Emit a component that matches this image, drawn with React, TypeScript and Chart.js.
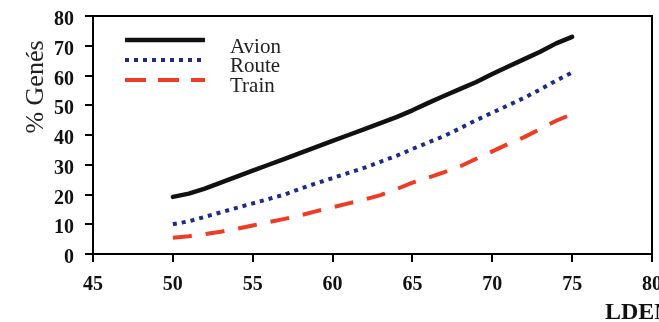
import React, { useEffect, useRef } from "react";
import { Chart, registerables } from "chart.js";

Chart.register(...registerables);

const lden = [50, 51, 52, 53, 54, 55, 56, 57, 58, 59, 60, 61, 62, 63, 64, 65, 66, 67, 68, 69, 70, 71, 72, 73, 74, 75];
const avion = [19.2, 20.3, 22, 24, 26, 28, 30, 32, 34, 36, 38, 40, 42, 44, 46, 48.3, 50.8, 53.2, 55.5, 57.8, 60.5, 63, 65.5, 68, 70.8, 73];
const route = [10, 11, 12.5, 14, 15.5, 17, 18.5, 20, 22, 23.8, 25.5, 27.3, 29, 31, 33, 35.3, 37.5, 39.7, 42.3, 45, 47.5, 50, 52.5, 55.3, 58.3, 61];
const train = [5.5, 6, 6.7, 7.5, 8.5, 9.6, 10.7, 11.8, 13, 14.4, 15.7, 17, 18.3, 19.8, 21.8, 24, 25.7, 27.5, 29.5, 32, 34.5, 37, 39.3, 42, 44.8, 47];
const seriesNames = ["Avion", "Route", "Train"];
const xTicks = [45, 50, 55, 60, 65, 70, 75, 80];
const yTicks = [0, 10, 20, 30, 40, 50, 60, 70, 80];
const xTitle = "LDEN";
const yTitle = "% Genés";

const SERIF = "'Liberation Serif', 'Times New Roman', serif";

const boxPlugin = {
  id: "boxPlugin",
  afterDraw(chart: any) {
    const { ctx, chartArea } = chart;
    ctx.save();
    ctx.strokeStyle = "#000";
    ctx.lineWidth = 2;
    ctx.beginPath();
    ctx.moveTo(chartArea.left - 8, chartArea.top);
    ctx.lineTo(chartArea.right, chartArea.top);
    ctx.lineTo(chartArea.right, chartArea.bottom);
    ctx.stroke();
    // legend inside the plot
    const ys = [40, 60, 80];
    const textYs = [53, 72, 92];
    chart.data.datasets.forEach((ds: any, i: number) => {
      ctx.save();
      ctx.strokeStyle = ds.borderColor;
      ctx.lineWidth = ds.borderWidth;
      ctx.setLineDash(i === 2 ? [21, 12] : ds.borderDash || []);
      ctx.lineCap = "butt";
      ctx.beginPath();
      ctx.moveTo(125, ys[i]);
      ctx.lineTo(205, ys[i]);
      ctx.stroke();
      ctx.restore();
      ctx.fillStyle = "#222";
      ctx.font = `21px ${SERIF}`;
      ctx.textBaseline = "alphabetic";
      ctx.textAlign = "left";
      ctx.fillText(ds.label, 230, textYs[i]);
    });
    // x axis title
    ctx.fillStyle = "#111";
    ctx.font = `bold 24px ${SERIF}`;
    ctx.textBaseline = "alphabetic";
    ctx.textAlign = "left";
    ctx.fillText(xTitle, 605, 319);
    // y axis title
    ctx.save();
    ctx.translate(36, 87);
    ctx.rotate(-Math.PI / 2);
    ctx.fillStyle = "#222";
    ctx.font = `26px ${SERIF}`;
    ctx.textAlign = "center";
    ctx.textBaseline = "middle";
    ctx.fillText(yTitle, 0, 0);
    ctx.restore();
    ctx.restore();
  },
};

export default function App() {
  const ref = useRef<HTMLCanvasElement>(null);
  useEffect(() => {
    const toXY = (arr: number[]) => arr.map((v, i) => ({ x: lden[i], y: v }));
    const chart = new Chart(ref.current!, {
      type: "line",
      data: {
        datasets: [
          { label: seriesNames[0], data: toXY(avion), borderColor: "#111", borderWidth: 4.5, pointRadius: 0, borderCapStyle: "round", borderJoinStyle: "round", tension: 0 },
          { label: seriesNames[1], data: toXY(route), borderColor: "#1c2a8c", borderWidth: 4, borderDash: [4, 5], pointRadius: 0, tension: 0 },
          { label: seriesNames[2], data: toXY(train), borderColor: "#ee3b24", borderWidth: 4, borderDash: [19, 14], pointRadius: 0, tension: 0 },
        ],
      },
      options: {
        animation: false,
        responsive: false,
        maintainAspectRatio: false,
        layout: { padding: { top: 16, right: 7, left: 0, bottom: 0 } },
        plugins: { legend: { display: false }, tooltip: { enabled: false } },
        scales: {
          x: {
            type: "linear",
            min: 45,
            max: 80,
            afterBuildTicks: (scale: any) => {
              scale.ticks = xTicks.map((v) => ({ value: v }));
            },
            afterFit: (scale: any) => {
              scale.height = 68;
              scale.paddingLeft = 0;
              scale.paddingRight = 0;
            },
            ticks: { color: "#111", font: { family: SERIF, size: 20, weight: "bold" }, padding: 11, maxRotation: 0, autoSkip: false },
            grid: { drawOnChartArea: false, drawTicks: true, tickLength: 8, color: "#000", lineWidth: 2 },
            border: { display: true, color: "#000", width: 2 },
          },
          y: {
            min: 0,
            max: 80,
            afterBuildTicks: (scale: any) => {
              scale.ticks = yTicks.map((v) => ({ value: v }));
            },
            afterFit: (scale: any) => {
              scale.width = 93;
              scale.paddingTop = 0;
              scale.paddingBottom = 0;
            },
            ticks: { color: "#111", font: { family: SERIF, size: 20, weight: "bold" }, padding: 11, labelOffset: 4, autoSkip: false },
            grid: { drawOnChartArea: false, drawTicks: true, tickLength: 8, color: "#000", lineWidth: 2 },
            border: { display: true, color: "#000", width: 2 },
          },
        },
      },
      plugins: [boxPlugin],
    });
    return () => chart.destroy();
  }, []);
  return (
    <div style={{ position: "fixed", left: 0, top: 0, width: 659, height: 322, background: "#fff" }}>
      <canvas ref={ref} width={659} height={322} style={{ display: "block" }} />
    </div>
  );
}
